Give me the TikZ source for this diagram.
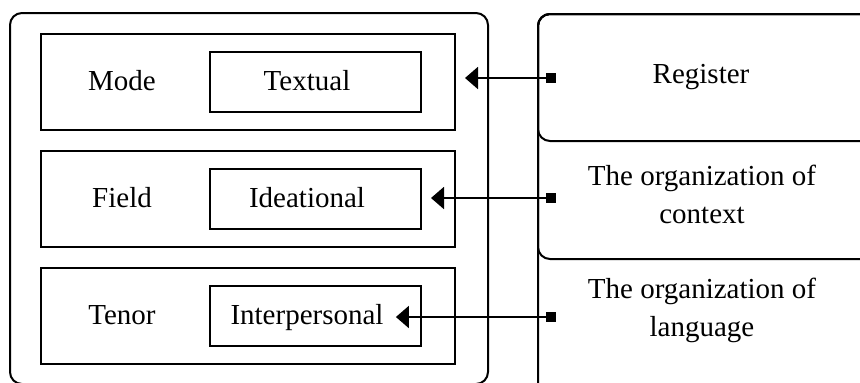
\documentclass[tikz,border=0pt]{standalone}
\usepackage{fontspec}
\setmainfont{Liberation Serif}
\usetikzlibrary{shapes,arrows.meta,positioning}
\tikzstyle{frame} = [rectangle, draw, line width=1pt, rounded corners=6pt, inner sep=0pt]
\tikzstyle{layer} = [rectangle, draw, line width=1pt, minimum width=207pt, minimum height=48pt]
\tikzstyle{meta} = [rectangle, draw, line width=1pt, minimum width=105.5pt, minimum height=30pt]
\tikzstyle{word} = [inner sep=0pt, text height=0.8em, text depth=0pt]
\tikzstyle{note} = [text centered, inner sep=0pt, align=center]
\tikzstyle{stub} = [rectangle, fill=black, minimum size=5pt, inner sep=0pt]
\tikzstyle{line} = [draw, line width=1pt, -{Triangle[length=6.5pt,width=11pt]}]

\begin{document}
\begin{tikzpicture}[x=0.5pt, y=-0.5pt, node distance=58.5pt,
  font=\fontsize{14.5}{19}\selectfont]
        \useasboundingbox (0,0) rectangle (860,382);

        % left frame with the three layers
        \node[frame, minimum width=239pt, minimum height=185.5pt] (outer) at (249,198.5) {};
        \node[layer]                  (mode) at (248,82) {};
        \node[layer, below of=mode]   (field) {};
        \node[layer, below of=field]  (tenor) {};

        \node[word] at ([xshift=41pt]mode.west)  {Mode};
        \node[word] at ([xshift=41pt]field.west) {Field};
        \node[word] at ([xshift=41pt]tenor.west) {Tenor};

        \node[meta, left=17pt of mode.east]  (textbox) {};
        \node[meta, left=17pt of field.east] (ideabox) {};
        \node[meta, left=17pt of tenor.east] (interbox) {};

        \node[word] (textual)       at ([xshift=-4.25pt]textbox.center)  {Textual};
        \node[word] (ideational)    at ([xshift=-4.25pt]ideabox.center)  {Ideational};
        \node[word] (interpersonal) at ([xshift=-4.25pt]interbox.center) {Interpersonal};

        % right frames, cut off by the page edge
        \node[frame, anchor=north west, minimum width=175pt, minimum height=191.5pt] (langframe) at (537,13) {};
        \node[frame, anchor=north west, minimum width=175pt, minimum height=122.5pt] (ctxframe) at (537,13) {};
        \node[frame, anchor=north west, minimum width=175pt, minimum height=63.5pt] (regframe) at (537,13) {};

        \node[word] (register) at (701,75) {Register};
        \node[note] (context)  at (702,194) {The organization of\\context};
        \node[note] (language) at (702,310) {The organization of\\language};

        \node[stub] (sqreg) at (551,78)  {};
        \node[stub] (sqctx) at (551,198) {};
        \node[stub] (sqlan) at (551,317) {};

        \path[line, shorten >=4.5pt] (sqreg) -- (sqreg -| mode.east);
        \path[line, shorten >=4.5pt] (sqctx) -- (sqctx -| ideabox.east);
        \path[line, shorten >=6pt]   (sqlan) -- (sqlan -| interpersonal.east);
      \end{tikzpicture}
\end{document}
